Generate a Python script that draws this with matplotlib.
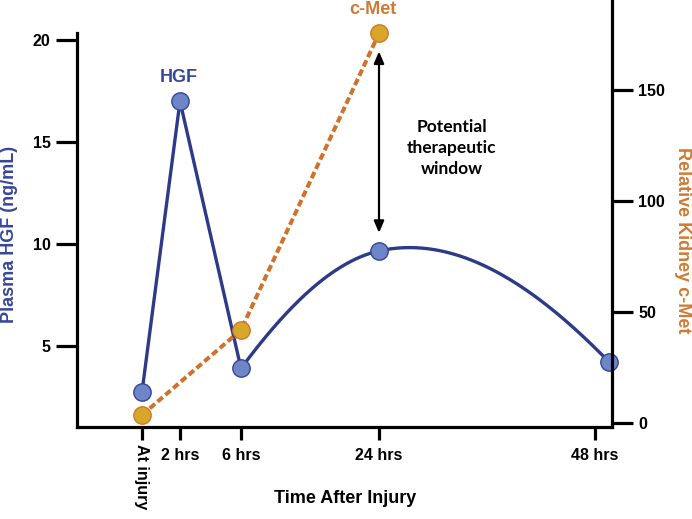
import numpy as np
import matplotlib
matplotlib.use("Agg")
import matplotlib.pyplot as plt
from matplotlib.transforms import ScaledTranslation

plt.rcParams['font.family'] = ['Liberation Sans', 'DejaVu Sans']
plt.rcParams['font.weight'] = 'bold'

# ---------------- data ----------------
tick_hours = [0, 2, 6, 24, 48]
tick_labels = ['At injury', '2 hrs', '6 hrs', '24 hrs', '48 hrs']

hgf_hours = [0, 2, 6, 24, 49.6]
hgf_values = [2.75, 17.0, 3.9, 9.66, 4.2]

cmet_hours = [0, 6, 24]
cmet_values = [3.6, 41.9, 175.5]

left_ticks = [5, 10, 15, 20]
right_ticks = [0, 50, 100, 150]

# ---------------- styles ----------------
NAVY = '#2C3A88'
HGF_FACE = '#6E86C8'
HGF_EDGE = '#34459A'
HGF_TEXT = '#36479B'
ORANGE = '#D0722B'
CMET_FACE = '#D8A72A'
CMET_EDGE = '#D0782A'
CMET_TEXT = '#CF7A33'

# shape of the smoothed HGF line (tangent factors at 6 h, 24 h, 48 h)
CURVE_TANGENT_FACTORS = [1.0, 0.63, 0.78]

W, H = 692, 519


def px(x, y):
    return (x / W, 1 - y / H)


# non-uniform time axis layout (hours -> horizontal position)
knot_h = np.array([0, 2, 6, 24, 48], float)
knot_p = np.array([142, 180, 241, 379, 595], float)
sl_lo = (knot_p[1] - knot_p[0]) / (knot_h[1] - knot_h[0])
sl_hi = (knot_p[-1] - knot_p[-2]) / (knot_h[-1] - knot_h[-2])


def fwd(h):
    h = np.asarray(h, float)
    p = np.interp(h, knot_h, knot_p)
    p = np.where(h < knot_h[0], knot_p[0] + (h - knot_h[0]) * sl_lo, p)
    p = np.where(h > knot_h[-1], knot_p[-1] + (h - knot_h[-1]) * sl_hi, p)
    return p


def inv(p):
    p = np.asarray(p, float)
    h = np.interp(p, knot_p, knot_h)
    h = np.where(p < knot_p[0], knot_h[0] + (p - knot_p[0]) / sl_lo, h)
    h = np.where(p > knot_p[-1], knot_h[-1] + (p - knot_p[-1]) / sl_hi, h)
    return h


def smooth_line(xs_pos, ys, factors, n=150):
    """Cubic Hermite curve through the given points (in axis position space)."""
    xs_pos = np.asarray(xs_pos, float)
    ys = np.asarray(ys, float)
    coef = np.polyfit(xs_pos, ys, len(xs_pos) - 1)
    m = np.polyval(np.polyder(coef), xs_pos) * np.asarray(factors)
    out_x, out_y = [], []
    for i in range(len(xs_pos) - 1):
        x0, x1 = xs_pos[i], xs_pos[i + 1]
        hh = x1 - x0
        t = np.linspace(0, 1, n)
        h00 = 2 * t**3 - 3 * t**2 + 1
        h10 = t**3 - 2 * t**2 + t
        h01 = -2 * t**3 + 3 * t**2
        h11 = t**3 - t**2
        out_x.append(x0 + t * hh)
        out_y.append(h00 * ys[i] + h10 * hh * m[i] + h01 * ys[i + 1] + h11 * hh * m[i + 1])
    return np.concatenate(out_x), np.concatenate(out_y)


fig = plt.figure(figsize=(W / 100, H / 100), dpi=100)
ax_left, ax_right, ax_bot, ax_top = 77, 612, 427, 0
ax = fig.add_axes([ax_left / W, 1 - ax_bot / H, (ax_right - ax_left) / W, (ax_bot - ax_top) / H])
ax.patch.set_alpha(0)
ax.set_xscale('function', functions=(fwd, inv))
ax.set_xlim(float(inv(ax_left)), float(inv(ax_right)))

# left scale: 20.4 px per ng/mL, value 0 at y=448 px
ax.set_ylim((448 - ax_bot) / 20.4, (448 - ax_top) / 20.4)

ax2 = ax.twinx()
ax2.set_xscale('function', functions=(fwd, inv))
ax2.set_xlim(ax.get_xlim())
# right scale: 2.22 px per unit, value 0 at y=423 px
ax2.set_ylim((423 - ax_bot) / 2.22, (423 - ax_top) / 2.22)

for a in (ax, ax2):
    for s in a.spines.values():
        s.set_linewidth(2.3)
        s.set_color('black')
ax.spines['top'].set_visible(False)
ax.spines['right'].set_visible(False)
ax.spines['left'].set_bounds(ax.get_ylim()[0], (448 - 33) / 20.4)
ax2.spines['top'].set_visible(False)
ax2.spines['left'].set_visible(False)
ax2.spines['bottom'].set_visible(False)

# ---- HGF series ----
ax.plot(hgf_hours[:3], hgf_values[:3], color=NAVY, lw=2.4, zorder=3,
        solid_joinstyle='miter')
cx, cy = smooth_line(fwd(hgf_hours[2:]), hgf_values[2:], CURVE_TANGENT_FACTORS)
ax.plot(inv(cx), cy, color=NAVY, lw=2.4, zorder=3)
ax.plot(hgf_hours, hgf_values, ls='none', marker='o', ms=12.5,
        mfc=HGF_FACE, mec=HGF_EDGE, mew=1.0, zorder=4, clip_on=False)

# ---- c-Met series ----
ax2.plot(cmet_hours, cmet_values, color=ORANGE, lw=2.9, ls=(0, (1.7, 0.85)),
         zorder=2)
ax2.plot(cmet_hours, cmet_values, ls='none', marker='o', ms=12.5,
         mfc=CMET_FACE, mec=CMET_EDGE, mew=1.0, zorder=5, clip_on=False)

# ---- ticks ----
ax.set_xticks(tick_hours)
ax.set_xticklabels(tick_labels)
ax.tick_params(axis='x', length=9, width=2.3, pad=6, labelsize=11.5, direction='out')
ax.set_yticks(left_ticks)
ax.tick_params(axis='y', length=15, width=2.3, pad=4, labelsize=11.5, direction='out')
ax2.set_yticks(right_ticks)
ax2.tick_params(axis='y', length=15, width=2.3, pad=4, labelsize=11.5, direction='out')
for lab in ax.get_xticklabels() + ax.get_yticklabels() + ax2.get_yticklabels():
    lab.set_fontweight('bold')

first = ax.get_xticklabels()[0]
first.set_rotation(-90)
first.set_transform(first.get_transform() + ScaledTranslation(0, 3 / 72, fig.dpi_scale_trans))

# ---- annotations ----
ax.annotate('', xy=(cmet_hours[2], cmet_values[2]), xycoords=ax2.transData,
            xytext=(hgf_hours[3], hgf_values[3]), textcoords=ax.transData,
            arrowprops=dict(arrowstyle='<|-|>,head_length=0.7,head_width=0.3',
                            color='black', lw=1.6, shrinkA=13, shrinkB=13,
                            mutation_scale=10), zorder=6)

fig.text(*px(452, 148), 'Potential\ntherapeutic\nwindow', ha='center', va='center',
         fontsize=12.5, fontweight='bold', family=['Lato', 'DejaVu Sans'],
         linespacing=1.35, color='black')
fig.text(*px(179, 77), 'HGF', ha='center', va='center', fontsize=13,
         fontweight='bold', color=HGF_TEXT)
fig.text(*px(373, 10), 'c-Met', ha='center', va='center', fontsize=13,
         fontweight='bold', color=CMET_TEXT)

fig.text(*px(10, 234), 'Plasma HGF (ng/mL)', ha='center', va='center', rotation=90,
         fontsize=13, fontweight='bold', color=HGF_TEXT)
fig.text(*px(683, 240), 'Relative Kidney c-Met', ha='center', va='center', rotation=-90,
         fontsize=13, fontweight='bold', color=CMET_TEXT)
fig.text(*px(345, 503), 'Time After Injury', ha='center', va='baseline',
         fontsize=13, fontweight='bold', color='black')

fig.savefig('out.png', dpi=100)
